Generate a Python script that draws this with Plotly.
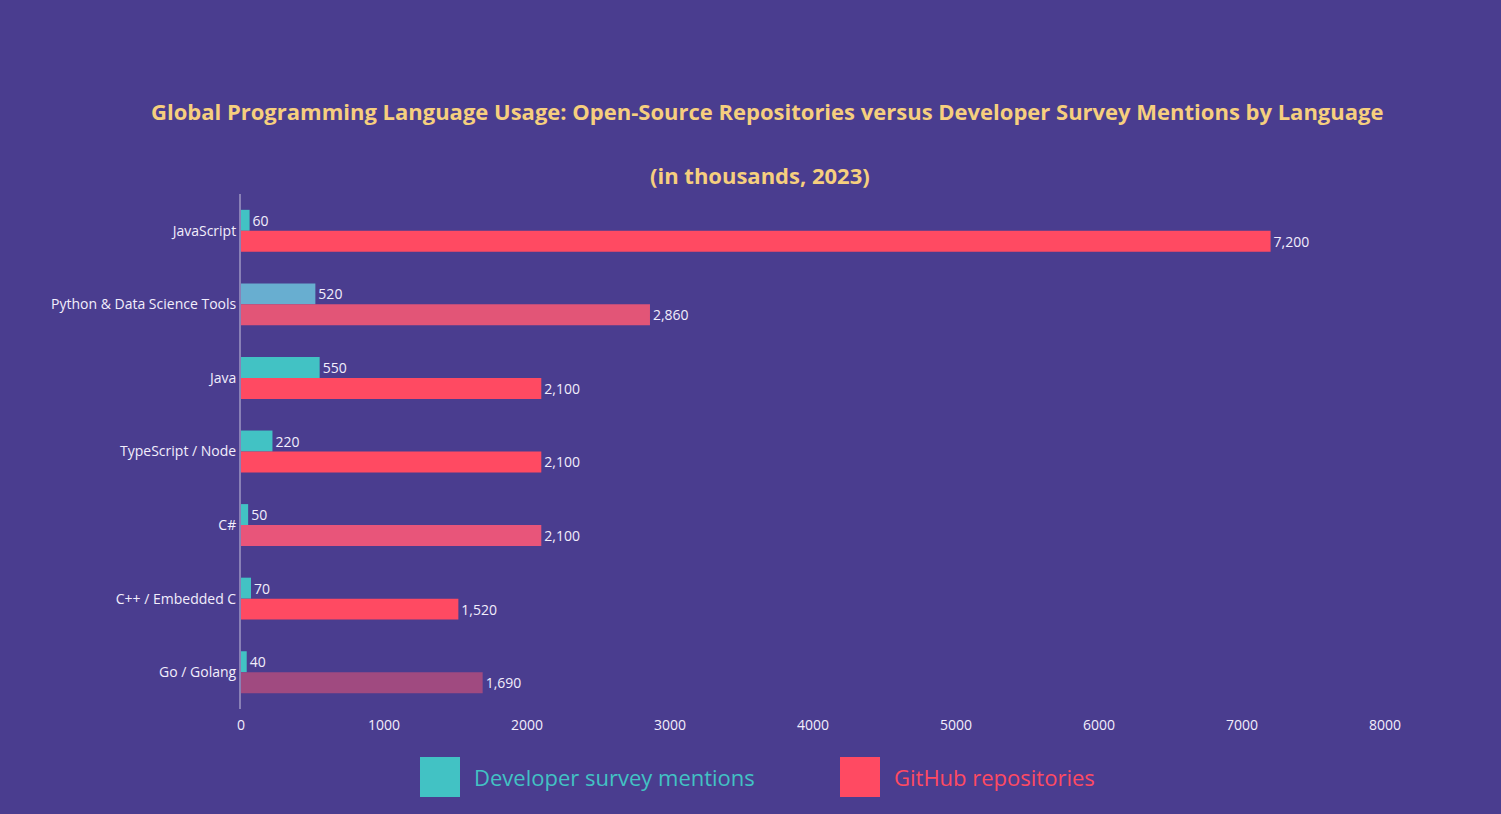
import plotly.graph_objects as go

# data (values in thousands)
categories = [
    "JavaScript",
    "Python & Data Science Tools",
    "Java",
    "TypeScript / Node",
    "C#",
    "C++ / Embedded C",
    "Go / Golang",
]
survey_mentions = [60, 520, 550, 220, 50, 70, 40]
repositories = [7200, 2860, 2100, 2100, 2100, 1520, 1690]
x_tickvals = [0, 1000, 2000, 3000, 4000, 5000, 6000, 7000, 8000]

title_line1 = "Global Programming Language Usage: Open-Source Repositories versus Developer Survey Mentions by Language"
title_line2 = "(in thousands, 2023)"
legend_teal = "Developer survey mentions"
legend_red = "GitHub repositories"

# styling
BG = "#4a3d8f"
TEAL = "#42c2c4"
RED = "#ff4a62"
GOLD = "#f6cf7e"
teal_colors = [TEAL, "#68aed0", TEAL, TEAL, TEAL, TEAL, TEAL]
red_colors = [RED, "#e25577", RED, RED, "#e8557a", RED, "#a04a80"]

W, H = 1501, 814
L, R, T, B = 241, 116, 194, 105


def px(x):
    return (x - L) / (W - L - R)


def py(y):
    return (H - B - y) / (H - T - B)


fig = go.Figure()
fig.add_trace(go.Bar(
    y=categories, x=survey_mentions, orientation="h", name=legend_teal,
    marker=dict(color=teal_colors, line=dict(width=0)),
    texttemplate="%{x:,}", textposition="outside",
    textfont=dict(color="#f2eefc", size=14), cliponaxis=False,
))
fig.add_trace(go.Bar(
    y=categories, x=repositories, orientation="h", name=legend_red,
    marker=dict(color=red_colors, line=dict(width=0)),
    texttemplate="%{x:,}", textposition="outside",
    textfont=dict(color="#f2eefc", size=14), cliponaxis=False,
))

fig.update_layout(
    barmode="group",
    bargap=0.43,
    bargroupgap=0,
    showlegend=False,
    paper_bgcolor=BG,
    plot_bgcolor=BG,
    font=dict(family="Open Sans, sans-serif", color="#f2eefc", size=14),
    margin=dict(l=L, r=R, t=T, b=B),
)
fig.update_yaxes(
    autorange="reversed", showgrid=False, ticks="",
    showline=True, linecolor="rgba(255,255,255,0.35)", linewidth=2,
    tickfont=dict(size=14, color="#f2eefc"),
)
fig.update_xaxes(
    range=[0, 8000], tickvals=x_tickvals, showgrid=False, zeroline=False,
    ticklabelstandoff=6,
    tickfont=dict(size=14, color="#f2eefc"),
)

# title (two gold lines)
fig.add_annotation(text="<b>" + title_line1 + "</b>", xref="paper", yref="paper",
                   x=px(767), y=py(111), xanchor="center", yanchor="middle",
                   showarrow=False, font=dict(size=22, color=GOLD))
fig.add_annotation(text="<b>" + title_line2 + "</b>", xref="paper", yref="paper",
                   x=px(760), y=py(175), xanchor="center", yanchor="middle",
                   showarrow=False, font=dict(size=22, color=GOLD))

# custom legend with large swatches and coloured text
for x0, color, label in [(420, TEAL, legend_teal), (840, RED, legend_red)]:
    fig.add_shape(type="rect", xref="paper", yref="paper",
                  x0=px(x0), x1=px(x0 + 40), y0=py(757), y1=py(797),
                  fillcolor=color, line=dict(width=0))
    fig.add_annotation(text=label, xref="paper", yref="paper",
                       x=px(x0 + 52), y=py(777), xanchor="left", yanchor="middle",
                       showarrow=False, font=dict(size=22, color=color))

# drop the default body margin so the chart fills the whole window
fix_page = (
    "document.body.style.margin='0';"
    "document.documentElement.style.overflow='hidden';"
    "Plotly.Plots.resize(document.getElementById('{plot_id}'));"
)
fig.write_html("out.html", post_script=fix_page, config={"displayModeBar": False})
